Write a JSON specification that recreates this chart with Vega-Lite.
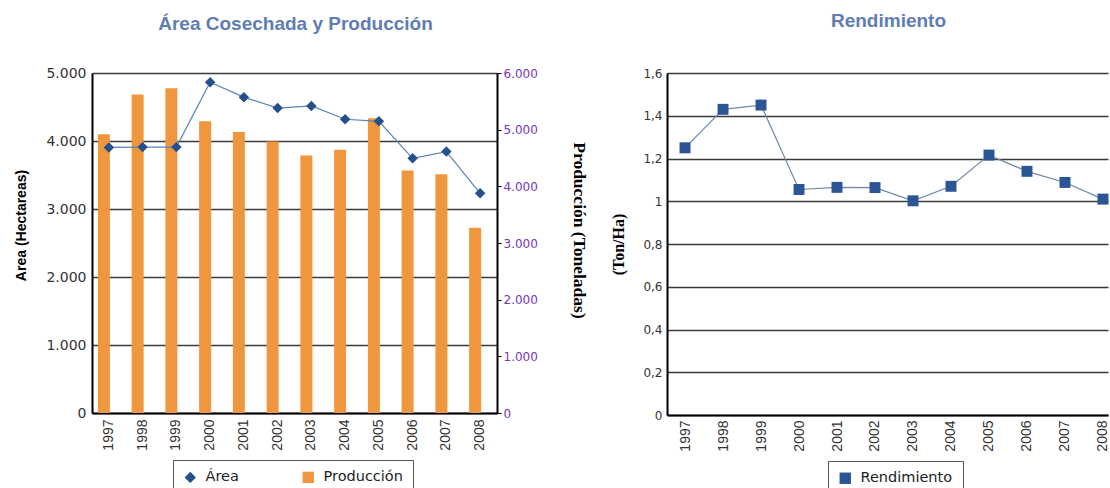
{
  "$schema": "https://vega.github.io/schema/vega-lite/v6.json",
  "background": "white",
  "padding": {"left": 14, "top": 12, "right": 0, "bottom": 0},
  "config": {
    "locale": {"number": {"decimal": ",", "thousands": ".", "grouping": [3], "currency": ["", " €"]}},
    "font": "DejaVu Sans",
    "view": {"stroke": null},
    "title": {"font": "Liberation Sans", "fontSize": 19, "fontWeight": "bold", "color": "#5f7db5", "anchor": "middle"},
    "axis": {
      "labelFont": "DejaVu Sans", "labelFontSize": 13, "labelColor": "#333333",
      "titleFont": "Liberation Serif", "titleFontSize": 15, "titleFontWeight": "bold", "titleColor": "#000000",
      "domainColor": "#000000", "domainWidth": 2, "tickColor": "#000000",
      "gridColor": "#3a3a3a", "gridWidth": 1.6, "gridOpacity": 1
    },
    "legend": {
      "labelFont": "DejaVu Sans", "labelFontSize": 14.5, "labelColor": "#222222",
      "strokeColor": "#555555", "padding": 10, "fillColor": "white", "labelOffset": 8
    }
  },
  "datasets": {
    "ap": [
      {"year": "1997", "serie": "Área", "valor": 3905},
      {"year": "1998", "serie": "Área", "valor": 3910},
      {"year": "1999", "serie": "Área", "valor": 3910},
      {"year": "2000", "serie": "Área", "valor": 4865},
      {"year": "2001", "serie": "Área", "valor": 4645},
      {"year": "2002", "serie": "Área", "valor": 4485},
      {"year": "2003", "serie": "Área", "valor": 4515},
      {"year": "2004", "serie": "Área", "valor": 4320},
      {"year": "2005", "serie": "Área", "valor": 4290},
      {"year": "2006", "serie": "Área", "valor": 3745},
      {"year": "2007", "serie": "Área", "valor": 3845},
      {"year": "2008", "serie": "Área", "valor": 3230},
      {"year": "1997", "serie": "Producción", "valor": 4920},
      {"year": "1998", "serie": "Producción", "valor": 5620},
      {"year": "1999", "serie": "Producción", "valor": 5730},
      {"year": "2000", "serie": "Producción", "valor": 5150},
      {"year": "2001", "serie": "Producción", "valor": 4960},
      {"year": "2002", "serie": "Producción", "valor": 4790},
      {"year": "2003", "serie": "Producción", "valor": 4545},
      {"year": "2004", "serie": "Producción", "valor": 4645},
      {"year": "2005", "serie": "Producción", "valor": 5200},
      {"year": "2006", "serie": "Producción", "valor": 4280},
      {"year": "2007", "serie": "Producción", "valor": 4215},
      {"year": "2008", "serie": "Producción", "valor": 3270}
    ],
    "rend": [
      {"year": 1997, "serie": "Rendimiento", "valor": 1.25},
      {"year": 1998, "serie": "Rendimiento", "valor": 1.43},
      {"year": 1999, "serie": "Rendimiento", "valor": 1.45},
      {"year": 2000, "serie": "Rendimiento", "valor": 1.055},
      {"year": 2001, "serie": "Rendimiento", "valor": 1.065},
      {"year": 2002, "serie": "Rendimiento", "valor": 1.064},
      {"year": 2003, "serie": "Rendimiento", "valor": 1.002},
      {"year": 2004, "serie": "Rendimiento", "valor": 1.07},
      {"year": 2005, "serie": "Rendimiento", "valor": 1.216},
      {"year": 2006, "serie": "Rendimiento", "valor": 1.14},
      {"year": 2007, "serie": "Rendimiento", "valor": 1.088},
      {"year": 2008, "serie": "Rendimiento", "valor": 1.01}
    ]
  },
  "spacing": 22,
  "resolve": {"scale": {"color": "independent", "shape": "independent"}, "legend": {"color": "independent", "shape": "independent"}},
  "hconcat": [
    {
      "width": 405,
      "height": 340,
      "title": {"text": "Área Cosechada y Producción", "offset": 32, "dx": 1},
      "data": {"name": "ap"},
      "layer": [
        {
          "transform": [{"filter": "datum.serie === 'Producción'"}],
          "mark": {"type": "bar", "size": 12, "xOffset": -5},
          "encoding": {
            "x": {"field": "year", "type": "ordinal", "scale": {"paddingInner": 0, "paddingOuter": 0},
                  "axis": {"title": null, "labelAngle": -90, "labelFont": "Liberation Sans", "labelFontSize": 14, "ticks": false, "labelPadding": 6}},
            "y": {"field": "valor", "type": "quantitative", "scale": {"domain": [0, 6000], "nice": false},
                  "axis": {"orient": "right", "values": [0, 1000, 2000, 3000, 4000, 5000, 6000], "format": ",d", "grid": false,
                           "labelColor": "#7a34b8", "labelFontSize": 12, "ticks": true, "tickSize": 4, "labelPadding": 2, "tickColor": "#000000",
                           "title": "Producción (Toneladas)", "titleAngle": 90, "titleFontSize": 17.5, "titlePadding": 32, "titleY": 157}},
            "color": {"field": "serie", "type": "nominal"}
          }
        },
        {
          "transform": [{"filter": "datum.serie === 'Área'"}],
          "mark": {"type": "line", "color": "#5b83b6", "strokeWidth": 1.2},
          "encoding": {
            "x": {"field": "year", "type": "ordinal"},
            "y": {"field": "valor", "type": "quantitative", "scale": {"domain": [0, 5000], "nice": false},
                  "axis": {"orient": "left", "values": [0, 1000, 2000, 3000, 4000, 5000], "format": ",d", "grid": true,
                           "ticks": false, "labelPadding": 6, "labelFontSize": 14,
                           "title": "Area (Hectareas)", "titleFont": "Liberation Sans", "titleFontSize": 14, "titlePadding": 17, "titleY": 152}}
          }
        },
        {
          "transform": [{"filter": "datum.serie === 'Área'"}],
          "mark": {"type": "point", "filled": true, "size": 110, "opacity": 1},
          "encoding": {
            "x": {"field": "year", "type": "ordinal"},
            "y": {"field": "valor", "type": "quantitative", "scale": {"domain": [0, 5000], "nice": false}, "axis": null},
            "color": {"field": "serie", "type": "nominal", "scale": {"domain": ["Área", "Producción"], "range": ["#24508c", "#f0963f"]},
                      "legend": {"title": null, "orient": "none", "legendX": 81, "legendY": 387, "direction": "horizontal", "columns": 2,
                                 "gridAlign": "all", "columnPadding": 16, "symbolSize": 130, "symbolStrokeWidth": 0}},
            "shape": {"field": "serie", "type": "nominal", "scale": {"domain": ["Área", "Producción"], "range": ["diamond", "square"]},
                      "legend": {"title": null, "orient": "none", "legendX": 81, "legendY": 387, "direction": "horizontal", "columns": 2,
                                 "gridAlign": "all", "columnPadding": 16, "symbolSize": 130, "symbolStrokeWidth": 0}}
          }
        }
      ],
      "resolve": {"scale": {"y": "independent"}}
    },
    {
      "width": 441,
      "height": 342,
      "title": {"text": "Rendimiento", "offset": 36, "dx": 1},
      "data": {"name": "rend"},
      "layer": [
        {
          "mark": {"type": "line", "color": "#7088a8", "strokeWidth": 1.2},
          "encoding": {
            "x": {"field": "year", "type": "quantitative", "scale": {"domain": [1996.526, 2008.132], "nice": false, "zero": false},
                  "axis": {"title": null, "values": [1997, 1998, 1999, 2000, 2001, 2002, 2003, 2004, 2005, 2006, 2007, 2008], "format": "d",
                           "labelAngle": -90, "labelFont": "Liberation Sans", "labelFontSize": 14, "ticks": false, "labelPadding": 5, "grid": false, "labelFlush": false, "labelOverlap": false}},
            "y": {"field": "valor", "type": "quantitative", "scale": {"domain": [0, 1.6], "nice": false},
                  "axis": {"values": [0, 0.2, 0.4, 0.6, 0.8, 1, 1.2, 1.4, 1.6], "format": ".1~f", "grid": true, "ticks": false, "labelPadding": 5, "labelFontSize": 12,
                           "title": "(Ton/Ha)", "titleFontSize": 16, "titlePadding": 16}}
          }
        },
        {
          "mark": {"type": "point", "filled": true, "size": 120, "opacity": 1},
          "encoding": {
            "x": {"field": "year", "type": "quantitative"},
            "y": {"field": "valor", "type": "quantitative"},
            "color": {"field": "serie", "type": "nominal", "scale": {"range": ["#2b5594"]},
                      "legend": {"title": null, "orient": "none", "legendX": 161, "legendY": 388, "symbolSize": 130}},
            "shape": {"field": "serie", "type": "nominal", "scale": {"range": ["square"]},
                      "legend": {"title": null, "orient": "none", "legendX": 161, "legendY": 388, "symbolSize": 130}}
          }
        }
      ]
    }
  ]
}
